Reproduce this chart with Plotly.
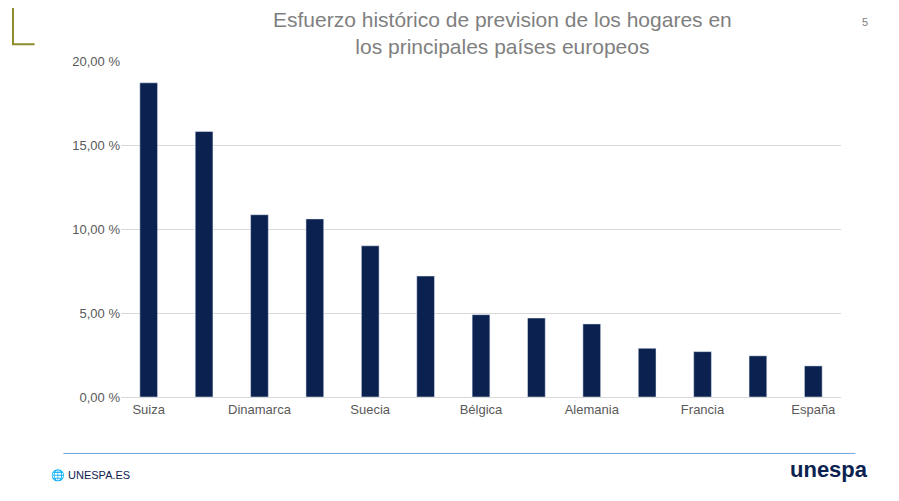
import plotly.graph_objects as go

paises = ['Suiza', 'Países Bajos', 'Dinamarca', 'Reino Unido', 'Suecia', 'Finlandia',
          'Bélgica', 'Austria', 'Alemania', 'Italia', 'Francia', 'Portugal', 'España']
esfuerzo = [18.7, 15.8, 10.85, 10.6, 9.0, 7.2, 4.9, 4.7, 4.35, 2.9, 2.7, 2.45, 1.85]
etiquetas = ['Suiza', 'Dinamarca', 'Suecia', 'Bélgica', 'Alemania', 'Francia', 'España']

fig = go.Figure(go.Bar(x=paises, y=esfuerzo, marker_color='#0b2250'))

fig.update_layout(
    width=899, height=501,
    margin=dict(l=113, r=66, t=53, b=112),
    paper_bgcolor='white', plot_bgcolor='white',
    bargap=0.68, showlegend=False,
    font=dict(family='Liberation Sans, Arial', color='#595959', size=13),
    xaxis=dict(tickmode='array', tickvals=etiquetas, ticktext=etiquetas,
               showline=True, linecolor='#d9d9d9', ticks=''),
    yaxis=dict(range=[0, 20], dtick=5, tickformat='.2f', ticksuffix=' %',
               gridcolor='#d9d9d9', zeroline=False),
    separators=', ',
)

fig.add_annotation(text='Esfuerzo histórico de prevision de los hogares en<br>los principales países europeos',
                   xref='paper', yref='paper', x=0.53, y=1.165, yanchor='top', showarrow=False,
                   font=dict(size=21, color='#7f7f7f'))
fig.add_shape(type='line', xref='paper', yref='paper', x0=-0.08, x1=1.02,
              y0=-0.168, y1=-0.168, line=dict(color='#6fa8dc', width=1))
fig.add_annotation(text='5', xref='paper', yref='paper', x=1.04, y=1.14,
                   showarrow=False, font=dict(size=11, color='#7f7f7f'))
fig.add_annotation(text='🌐 UNESPA.ES', xref='paper', yref='paper', x=-0.1, y=-0.26,
                   xanchor='left', showarrow=False, font=dict(size=11, color='#0b2250'))
fig.add_annotation(text='<b>unespa</b>', xref='paper', yref='paper', x=1.04, y=-0.26,
                   xanchor='right', showarrow=False, font=dict(size=22, color='#0b2250'))
fig.add_shape(type='path', xref='paper', yref='paper',
              path='M -0.15 1.16 L -0.15 1.05 L -0.12 1.05', line=dict(color='#8c8c2a', width=2))

fig.write_html('out.html')
